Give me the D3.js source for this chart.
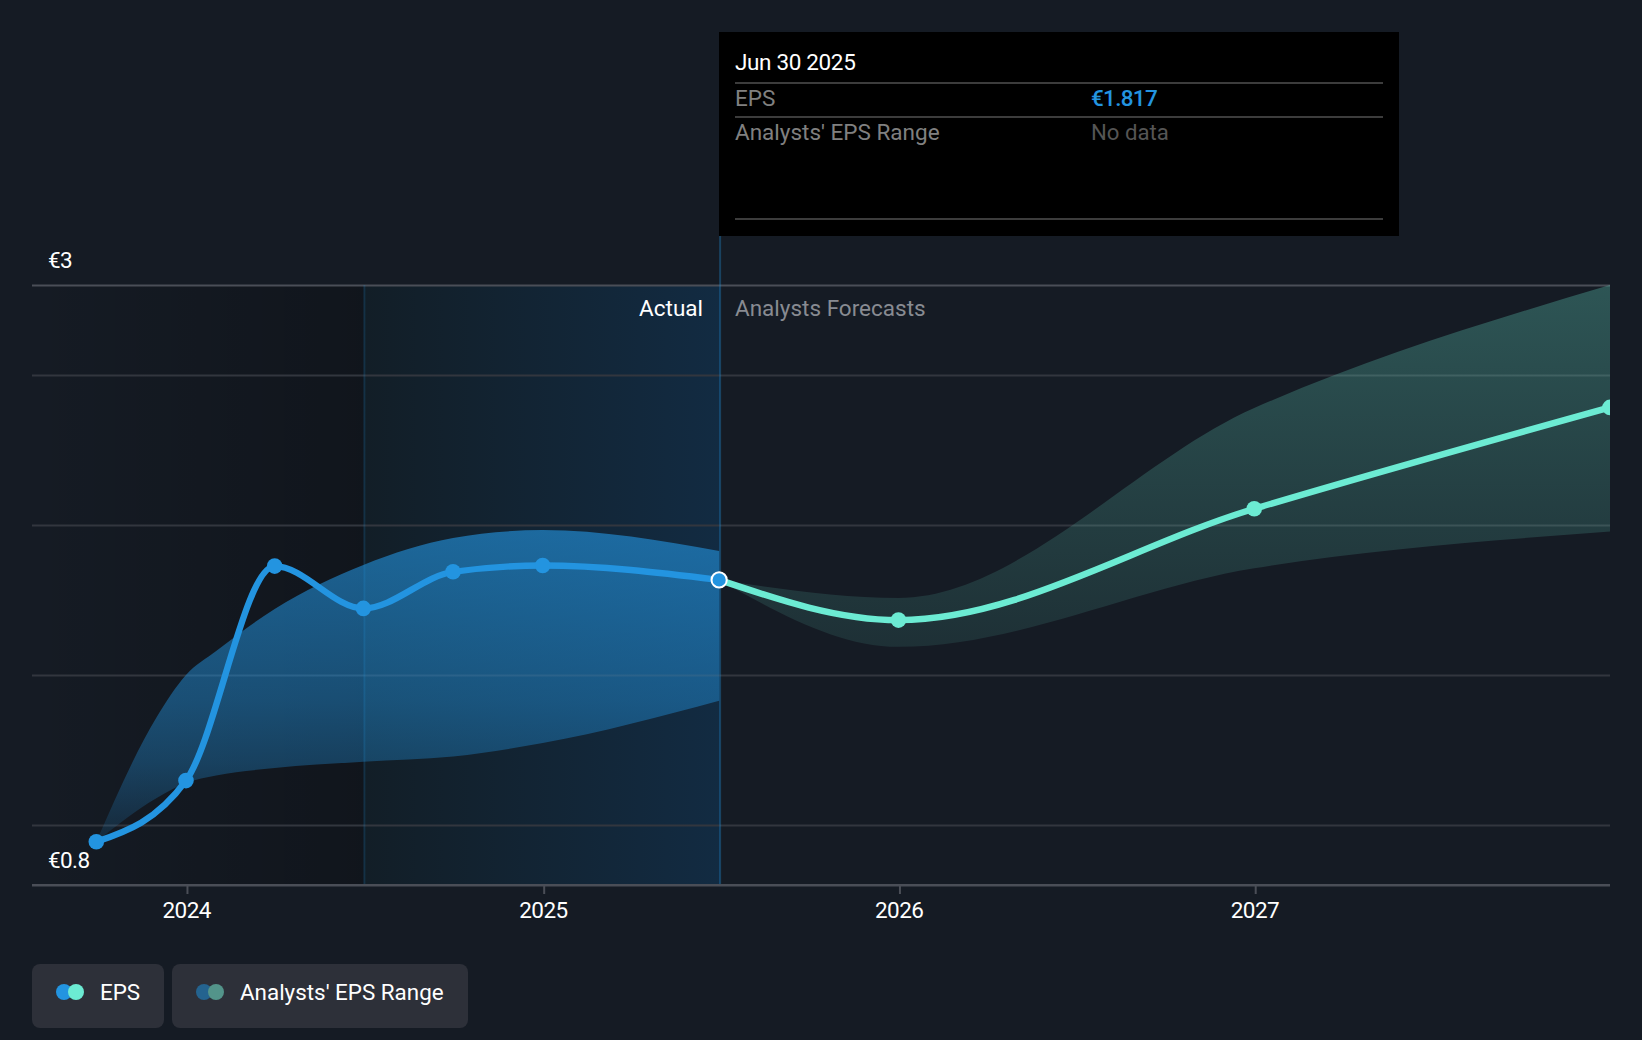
<!DOCTYPE html>
<html>
<head>
<meta charset="utf-8">
<script src="https://cdn.jsdelivr.net/npm/d3@7"></script>
<style>
html,body{margin:0;padding:0;background:#151b24;overflow:hidden}
svg{display:block}
text{font-family:Roboto,sans-serif}
</style>
</head>
<body>
<svg id="chart" width="1642" height="1040"></svg>
<script>
const actualDates = ["2023-09-30","2023-12-31","2024-03-31","2024-06-30","2024-09-30","2024-12-31","2025-06-30"];
const actualEps = [0.944,1.148,1.863,1.722,1.844,1.865,1.817];
const bandDates = ["2023-09-30","2023-12-01","2023-12-31","2024-01-31","2024-03-31","2024-06-30","2024-09-30","2024-12-31","2025-06-30"];
const actualUpper = [0.944,1.36,1.5,1.58,1.72,1.867,1.957,1.983,1.913];
const actualLower = [0.944,1.09,1.14,1.165,1.19,1.211,1.228,1.273,1.414];
const forecastDates = ["2025-06-30","2025-12-31","2026-12-31","2027-12-31"];
const forecastEps = [1.817,1.683,2.054,2.392];
const forecastUpper = [1.817,1.757,2.39,2.8];
const forecastLower = [1.817,1.594,1.856,1.978];
const yTickValues = [0.8,1,1.5,2,2.5,2.8];
const yTickLabels = ["€0.8","","","","","€3"];
const xTickYears = ["2024-01-01","2025-01-01","2026-01-01","2027-01-01"];
const xTickLabels = ["2024","2025","2026","2027"];
const periodEdges = ["2023-07-25","2024-07-01","2025-07-01","2027-12-31"];
const tooltipRows = ["EPS","Analysts' EPS Range"];
const tooltipValues = ["€1.817","No data"];
const tooltipDate = "Jun 30 2025";
const legendLabels = ["EPS","Analysts' EPS Range"];

const date = s => new Date(s + "T00:00:00Z");
const C = {bg:"#151b24",blue:"#2394e0",teal:"#6cebd3",grid:"#32363e",axis:"#4a4e57"};
const FS = 22.5, DIGIT_LS = -0.6;

const svg = d3.select("#chart");
const x = d3.scaleUtc().domain([date(periodEdges[0]),date(periodEdges[3])]).range([31,1610]);
const y = d3.scaleLinear().domain([0.8,2.8]).range([885,285]);

svg.append("rect").attr("width",1642).attr("height",1040).attr("fill",C.bg);

const defs = svg.append("defs");
function grad(id,attrs,stops){
  const g = defs.append("linearGradient").attr("id",id).attr("gradientUnits","userSpaceOnUse");
  Object.entries(attrs).forEach(([k,v])=>g.attr(k,v));
  stops.forEach(s=>g.append("stop").attr("offset",s[0]).attr("stop-color",s[1]).attr("stop-opacity",s[2]));
}
grad("pastDark",{x1:x(date(periodEdges[0])),x2:x(date(periodEdges[1])),y1:0,y2:0},[[0,"#000",0],[1,"#000",0.22]]);
grad("pastBlue",{x1:x(date(periodEdges[1])),x2:x(date(periodEdges[2])),y1:0,y2:0},[[0,"#121e27",1],[1,"#122b42",1]]);
grad("bandBlue",{x1:0,x2:0,y1:530,y2:840},[[0,C.blue,0.62],[0.55,C.blue,0.44],[0.75,C.blue,0.33],[1,C.blue,0.12]]);
grad("bandTeal",{x1:0,x2:0,y1:285,y2:650},[[0,C.teal,0.28],[1,C.teal,0.1]]);
defs.append("clipPath").attr("id","plotClip").append("rect")
  .attr("x",32).attr("y",270).attr("width",1578).attr("height",630);

// period shading
svg.append("rect").attr("x",32).attr("y",y(2.8))
  .attr("width",x(date(periodEdges[1]))-32).attr("height",y(0.8)-y(2.8)).attr("fill","url(#pastDark)");
svg.append("rect").attr("x",x(date(periodEdges[1]))).attr("y",y(2.8))
  .attr("width",x(date(periodEdges[2]))-x(date(periodEdges[1]))).attr("height",y(0.8)-y(2.8)).attr("fill","url(#pastBlue)");

// y axis + gridlines
const yAxis = svg.append("g").attr("transform","translate(32,0)")
  .call(d3.axisRight(y).tickValues(yTickValues).tickSize(1578)
    .tickFormat((d,i)=>yTickLabels[i]));
yAxis.select(".domain").remove();
yAxis.selectAll("line").attr("stroke",d=>(d===2.8||d===0.8)?C.axis:C.grid).attr("stroke-width",2);
yAxis.selectAll("text").attr("x",16).attr("dy",0).attr("y",-18).attr("text-anchor","start")
  .attr("fill","#fff").attr("font-size",FS).attr("letter-spacing",DIGIT_LS);

// bands
const band = (dates,hi,lo,fill)=>{
  const rows = dates.map((d,i)=>({d:date(d),hi:hi[i],lo:lo[i]}));
  svg.append("path").datum(rows).attr("fill",fill).attr("clip-path","url(#plotClip)")
    .attr("d",d3.area().curve(d3.curveMonotoneX).x(r=>x(r.d)).y0(r=>y(r.lo)).y1(r=>y(r.hi)));
};
band(bandDates,actualUpper,actualLower,"url(#bandBlue)");
band(forecastDates,forecastUpper,forecastLower,"url(#bandTeal)");

// period divider lines
svg.append("line").attr("x1",x(date(periodEdges[1]))).attr("x2",x(date(periodEdges[1])))
  .attr("y1",y(2.8)).attr("y2",y(0.8)).attr("stroke",C.blue).attr("stroke-opacity",0.18).attr("stroke-width",2);
svg.append("line").attr("x1",x(date(periodEdges[2]))).attr("x2",x(date(periodEdges[2])))
  .attr("y1",236).attr("y2",y(0.8)).attr("stroke",C.blue).attr("stroke-opacity",0.32).attr("stroke-width",2);

// x axis
const xAxis = svg.append("g").attr("transform","translate(0,885)")
  .call(d3.axisBottom(x).tickValues(xTickYears.map(date)).tickSize(9).tickSizeOuter(0)
    .tickFormat((d,i)=>xTickLabels[i]));
xAxis.select(".domain").attr("stroke",C.axis).attr("stroke-width",2).attr("d","M32,0H1610");
xAxis.selectAll("line").attr("stroke",C.axis).attr("stroke-width",2);
xAxis.selectAll("text").attr("x",-0.8).attr("y",33).attr("dy",0).attr("fill","#fff").attr("font-size",FS).attr("letter-spacing",DIGIT_LS);

// EPS lines
const line = (dates,vals,color)=>{
  const rows = dates.map((d,i)=>({d:date(d),v:vals[i]}));
  const g = svg.append("g").attr("clip-path","url(#plotClip)");
  g.append("path").datum(rows).attr("fill","none").attr("stroke",color).attr("stroke-width",6.4)
    .attr("stroke-linecap","round")
    .attr("d",d3.line().curve(d3.curveMonotoneX).x(r=>x(r.d)).y(r=>y(r.v)));
  g.selectAll("circle").data(rows).join("circle").attr("cx",r=>x(r.d)).attr("cy",r=>y(r.v))
    .attr("r",7.8).attr("fill",color);
};
line(forecastDates,forecastEps,C.teal);
line(actualDates,actualEps,C.blue);

// selected point
svg.append("circle").attr("cx",x(date(actualDates[6]))).attr("cy",y(actualEps[6]))
  .attr("r",7.6).attr("fill",C.blue).attr("stroke","#fff").attr("stroke-width",2);

// Actual / forecast labels
svg.append("text").attr("x",703).attr("y",316).attr("text-anchor","end").attr("fill","#fff")
  .attr("font-size",FS).text("Actual");
svg.append("text").attr("x",735).attr("y",316).attr("fill","#888b92")
  .attr("font-size",FS).text("Analysts Forecasts");

// tooltip
const tip = svg.append("g");
tip.append("rect").attr("x",719).attr("y",32).attr("width",680).attr("height",204).attr("fill","#000");
tip.selectAll("line").data([83,117,219]).join("line").attr("x1",735).attr("x2",1383)
  .attr("y1",d=>d).attr("y2",d=>d).attr("stroke","#3c3c3c").attr("stroke-width",2);
tip.append("text").attr("x",735).attr("y",70).attr("fill","#fff").attr("font-size",FS)
  .attr("letter-spacing",-0.35).text(tooltipDate);
tip.selectAll(".lbl").data(tooltipRows).join("text").attr("class","lbl").attr("x",735)
  .attr("y",(d,i)=>[106,140][i]).attr("fill","#808080").attr("font-size",FS).text(d=>d);
tip.selectAll(".val").data(tooltipValues).join("text").attr("class","val").attr("x",1091)
  .attr("y",(d,i)=>[106,140][i]).attr("fill",(d,i)=>i===0?C.blue:"#555")
  .attr("font-weight",(d,i)=>i===0?500:400).attr("letter-spacing",(d,i)=>i===0?-0.7:0)
  .attr("font-size",(d,i)=>i===0?FS:22.2).text(d=>d);

// legend
const legendBoxes = [[32,132,"#2394e0","#6cebd3",64,76,100],[172,296,"#24638f","#53948a",204,216,240]];
const lg = svg.append("g");
legendBoxes.forEach((b,i)=>{
  lg.append("rect").attr("x",b[0]).attr("y",964).attr("width",b[1]).attr("height",64).attr("rx",8).attr("fill","#2d3039");
  lg.append("circle").attr("cx",b[4]).attr("cy",992).attr("r",8).attr("fill",b[2]);
  lg.append("circle").attr("cx",b[5]).attr("cy",992).attr("r",8).attr("fill",b[3]);
  lg.append("text").attr("x",b[6]).attr("y",1000).attr("fill","#fff").attr("font-size",FS-0.1).text(legendLabels[i]);
});
</script>
</body>
</html>
